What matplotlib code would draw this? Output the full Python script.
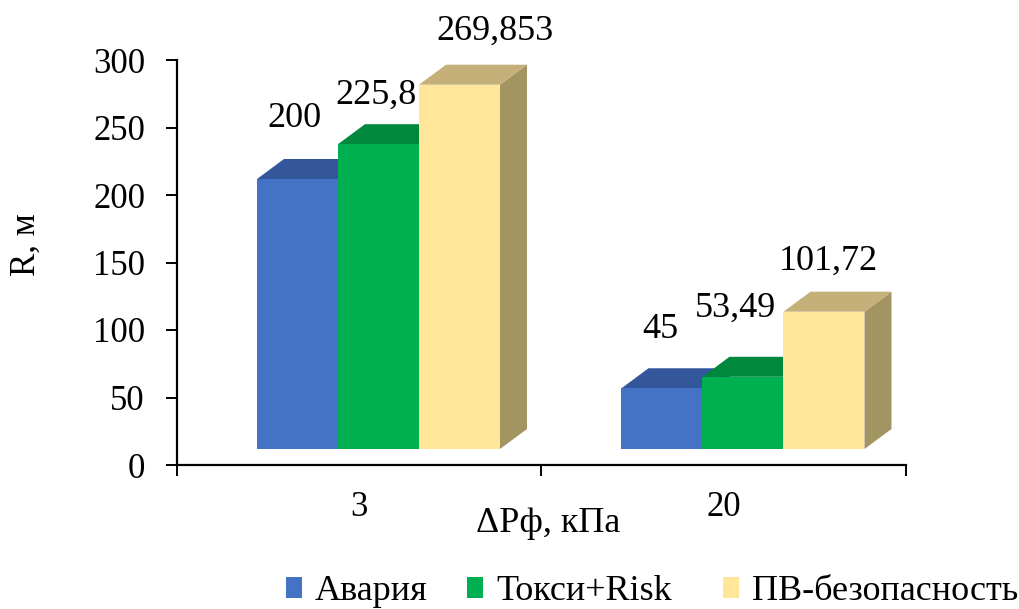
import matplotlib
matplotlib.use("Agg")
import matplotlib.pyplot as plt
from matplotlib.patches import Polygon, Patch

# Data
categories = ["3", "20"]
series_names = ["Авария", "Токси+Risk", "ПВ-безопасность"]
avaria = [200, 45]
toksi_risk = [225.8, 53.49]
pv_bezopasnost = [269.853, 101.72]
series_values = [avaria, toksi_risk, pv_bezopasnost]

# Styling
front_colors = ["#4472C4", "#00B050", "#FFE699"]
top_colors = ["#34569A", "#00893D", "#C4B078"]
side_colors = ["#2B487F", "#00702F", "#A39562"]
# value-label offsets (pixels) from the front-top centre of each bar
label_offsets = [
    [(-3, 61), (-2, 49), (36, 53)],
    [(-2, 59), (-8, 69), (4, 50)],
]

plt.rcParams["font.family"] = ["Liberation Serif", "DejaVu Serif"]

W, H = 1020, 609
fig = plt.figure(figsize=(W / 100, H / 100), dpi=100)
ax_left, ax_right, ax_bottom, ax_top = 177, 906, 465, 60
ax = fig.add_axes([ax_left / W, (H - ax_bottom) / H,
                   (ax_right - ax_left) / W, (ax_bottom - ax_top) / H])

ymax = 300
ax.set_xlim(0, len(categories))
ax.set_ylim(0, ymax)

# pixel -> data conversions
px_x = len(categories) / (ax_right - ax_left)
px_y = ymax / (ax_bottom - ax_top)

bar_w = 81 * px_x          # front-face width
depth_dx = 27 * px_x       # 3D depth offset
depth_dy = 20 * px_y
base = 16 * px_y           # front faces sit in front of the floor
group_start = 80 * px_x

for i, cat in enumerate(categories):
    for j, vals in enumerate(series_values):
        v = vals[i]
        left = i + group_start + j * bar_w
        top = base + v
        # right side face
        ax.add_patch(Polygon([(left + bar_w, base), (left + bar_w + depth_dx, base + depth_dy),
                              (left + bar_w + depth_dx, top + depth_dy), (left + bar_w, top)],
                             closed=True, facecolor=side_colors[j], edgecolor="none", zorder=2))
        # top face
        ax.add_patch(Polygon([(left, top), (left + bar_w, top),
                              (left + bar_w + depth_dx, top + depth_dy), (left + depth_dx, top + depth_dy)],
                             closed=True, facecolor=top_colors[j], edgecolor="none", zorder=2))
        # front face
        ax.bar(left, v, width=bar_w, bottom=base, align="edge",
               color=front_colors[j], edgecolor="none", zorder=2)
        label = f"{v:g}".replace(".", ",")
        ax.annotate(label, xy=(left + bar_w / 2, top), xytext=label_offsets[i][j],
                    textcoords="offset pixels", ha="center", va="center",
                    fontsize=26, color="black", zorder=5)

# Axes styling
for s in ["top", "right"]:
    ax.spines[s].set_visible(False)
for s in ["left", "bottom"]:
    ax.spines[s].set_linewidth(1.6)
    ax.spines[s].set_color("black")

ax.set_yticks(range(0, 301, 50))
ax.tick_params(axis="y", direction="out", length=8, width=1.4, pad=15, labelsize=25)
ax.set_xticks(range(0, len(categories) + 1))
ax.set_xticklabels([])
ax.set_xticks([i + 0.5 for i in range(len(categories))], minor=True)
ax.set_xticklabels(categories, minor=True)
ax.tick_params(axis="x", which="major", direction="out", length=8, width=1.4)
ax.tick_params(axis="x", which="minor", length=0, pad=19, labelsize=25)

fig.text(548 / W, 1 - 523 / H, "ΔPф, кПа", ha="center", va="center", fontsize=26)
fig.text(26 / W, 1 - 245 / H, "R, м", ha="center", va="center", rotation=90, fontsize=25)

# Legend: one entry per series along the bottom
legend_x = [286, 467, 723]
for j, name in enumerate(series_names):
    fig.legend(handles=[Patch(facecolor=front_colors[j], edgecolor="none")], labels=[name],
               loc="center left", bbox_to_anchor=(legend_x[j] / W, 1 - 592 / H),
               frameon=False, fontsize=26, handlelength=0.45, handleheight=0.5,
               handletextpad=0.35, borderpad=0, borderaxespad=0)

fig.savefig("out.png", dpi=100)
